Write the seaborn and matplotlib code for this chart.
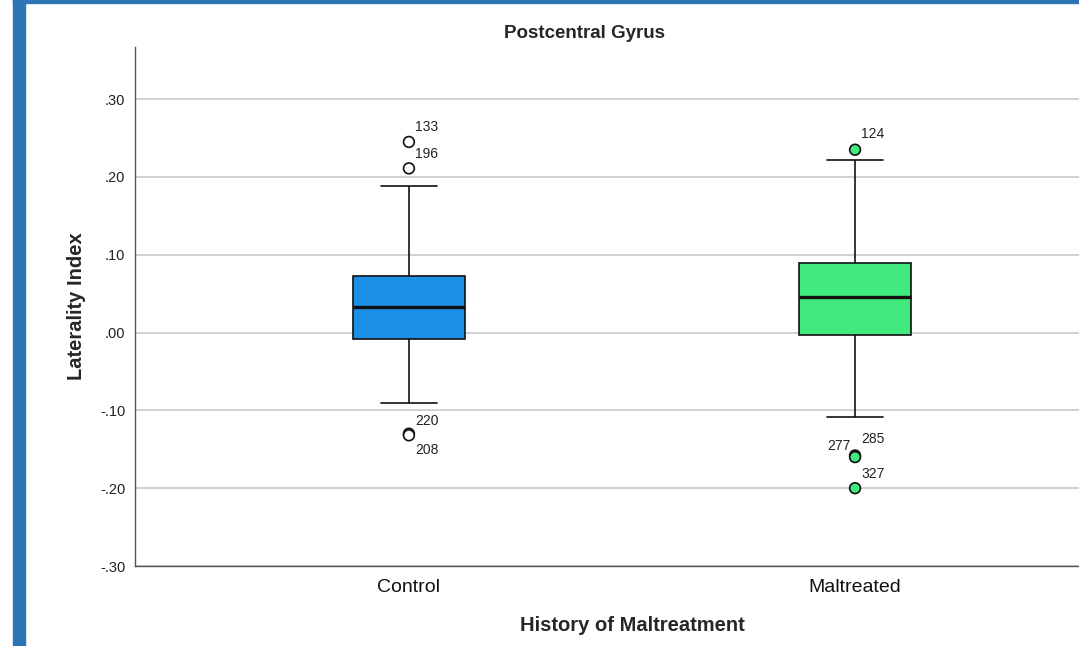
import seaborn as sns
import numpy as np
import matplotlib.pyplot as plt
import pandas as pd
from matplotlib.patches import Rectangle

# five-number summaries
groups = ["Control", "Maltreated"]
whisker_low = [-0.090, -0.109]
q1 = [-0.008, -0.003]
median = [0.033, 0.046]
q3 = [0.073, 0.089]
whisker_high = [0.189, 0.222]

# flagged cases
outlier_group = ["Control", "Control", "Control", "Control",
                 "Maltreated", "Maltreated", "Maltreated", "Maltreated"]
outlier_value = [0.245, 0.211, -0.130, -0.132, 0.235, -0.158, -0.160, -0.200]
outlier_case = ["133", "196", "220", "208", "124", "285", "277", "327"]

yticks = [-0.30, -0.20, -0.10, 0.00, 0.10, 0.20, 0.30]

box_colors = {"Control": "#1a90e6", "Maltreated": "#40ea7c"}
flier_colors = {"Control": "white", "Maltreated": "#40ea7c"}

sns.set_style("white")
plt.rcParams["font.family"] = ["Liberation Sans", "DejaVu Sans"]

# with whis=(0, 100) the quartiles of these 5 values are exactly the summary
rows = []
for i, g in enumerate(groups):
    for v in (whisker_low[i], q1[i], median[i], q3[i], whisker_high[i]):
        rows.append({"group": g, "value": v})
box_df = pd.DataFrame(rows)

fig = plt.figure(figsize=(10.79, 6.46), dpi=100)
ax = fig.add_axes([135 / 1079, 80 / 646, 944 / 1079, 519 / 646])

sns.boxplot(
    data=box_df, x="group", y="value", hue="group", order=groups,
    palette=box_colors, saturation=1, whis=(0, 100), width=0.25, showfliers=False,
    linecolor="#111111", linewidth=1.2, legend=False, ax=ax,
    medianprops={"linewidth": 2.4, "color": "#111111"},
)

out_df = pd.DataFrame({
    "pos": [groups.index(g) for g in outlier_group],
    "value": outlier_value,
    "group": outlier_group,
})
sns.scatterplot(
    data=out_df, x="pos", y="value", hue="group", palette=flier_colors,
    s=60, edgecolor="#111111", linewidth=1.2, legend=False, ax=ax, zorder=5,
)

# case labels (pixel offsets from each point)
offsets = {"133": (6, 15, "left"), "196": (6, 14, "left"), "220": (6, 13, "left"),
           "208": (6, -15, "left"), "124": (6, 16, "left"), "285": (6, 17, "left"),
           "277": (-4, 11, "right"), "327": (6, 14, "left")}
for g, v, c in zip(outlier_group, outlier_value, outlier_case):
    dx, dy, ha = offsets[c]
    ax.annotate(c, (groups.index(g), v), xytext=(dx, dy), textcoords="offset pixels",
                ha=ha, va="center", fontsize=10, color="#222222")

ax.set_xlim(-0.614, 1.502)
ax.set_ylim(-0.30, 0.367)
ax.set_yticks(yticks)
ax.set_yticklabels([("-" if t < 0 else "") + ("%.2f" % abs(t))[1:] for t in yticks])
ax.set_xticks(range(len(groups)))
ax.set_xticklabels(groups)
ax.tick_params(axis="y", length=0, pad=7, labelsize=10.5, labelcolor="#222222")
ax.tick_params(axis="x", length=0, pad=9, labelsize=14, labelcolor="#111111")
ax.yaxis.grid(True, color="#c8c8c8", linewidth=1.2)
ax.set_axisbelow(True)
for s in ("top", "right"):
    ax.spines[s].set_visible(False)
for s in ("left", "bottom"):
    ax.spines[s].set_color("#555555")
    ax.spines[s].set_linewidth(1.0)

ax.set_xlabel("History of Maltreatment", fontsize=14.5, fontweight="bold")
ax.xaxis.set_label_coords((632 - 135) / 944, -50 / 519)
ax.set_ylabel("Laterality Index", fontsize=14.5, fontweight="bold")
ax.yaxis.set_label_coords((86 - 135) / 944, 0.5)
fig.text(585 / 1079, 1 - 33 / 646, "Postcentral Gyrus", ha="center", va="center",
         fontsize=13.5, fontweight="bold")

# blue frame of the source window
fig.add_artist(Rectangle((13 / 1079, 0), 12 / 1079, 1, transform=fig.transFigure,
                         color="#2e75b6", zorder=10))
fig.add_artist(Rectangle((13 / 1079, 1 - 3 / 646), 1, 3 / 646, transform=fig.transFigure,
                         color="#2e75b6", zorder=10))

fig.savefig("out.png", dpi=100)
